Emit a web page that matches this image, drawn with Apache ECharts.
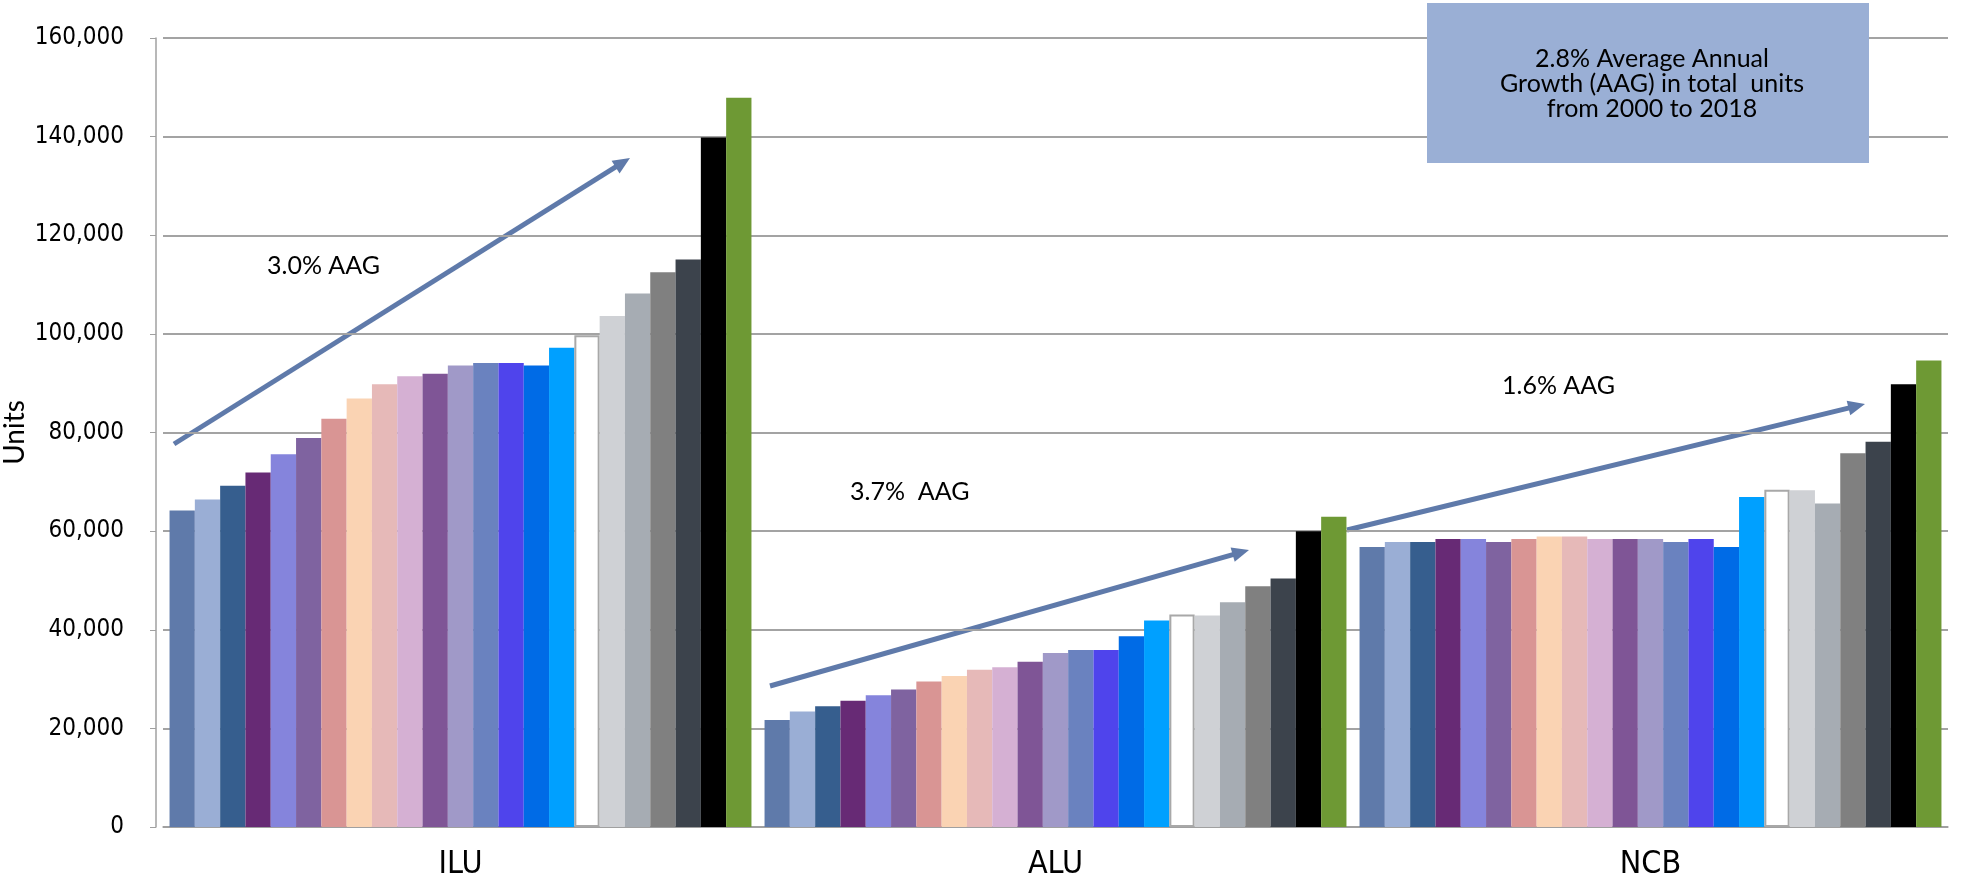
<!DOCTYPE html>
<html>
<head>
<meta charset="utf-8">
<title>Units by segment</title>
<script src="https://cdn.jsdelivr.net/npm/echarts@6/dist/echarts.min.js"></script>
<style>
  html, body { margin: 0; padding: 0; background: #fff; }
  #chart { width: 1963px; height: 886px; }
</style>
</head>
<body>
<div id="chart"></div>
<script>
// categories on the x axis
const categories = ['ILU', 'ALU', 'NCB'];

// one bar per year inside each category
const years = ['1996', '1997', '1998', '1999', '2000', '2001', '2002', '2003',
  '2004', '2005', '2006', '2007', '2008', '2009', '2010', '2011', '2012',
  '2013', '2014', '2015', '2016', '2017', '2018'];

const iluUnits = [64200, 66400, 69200, 71900, 75600, 78900, 82800, 86900, 89800,
  91400, 91900, 93600, 94100, 94100, 93600, 97200, 99700, 103600, 108200,
  112500, 115100, 139800, 147900];
const aluUnits = [21700, 23400, 24500, 25600, 26700, 27900, 29500, 30600, 31900,
  32400, 33500, 35300, 35900, 35900, 38700, 41900, 43100, 42900, 45600,
  48800, 50400, 60000, 62900];
const ncbUnits = [56800, 57800, 57800, 58400, 58400, 57800, 58400, 58900, 58900,
  58400, 58400, 58400, 57800, 58400, 56800, 66900, 68400, 68300, 65600,
  75800, 78100, 89800, 94600];

const barColors = ['#5f7aaa', '#9aaed5', '#365e8e', '#672a75', '#8584dc', '#7f63a0',
  '#d99594', '#fad3b3', '#e6b9b8', '#d5b0d3', '#7f5596', '#a099c8', '#6a82bf',
  '#4f44ec', '#006be6', '#00a0ff', '#ffffff', '#cfd1d5', '#a6acb3', '#808080',
  '#3c434c', '#000000', '#6e9934'];

const growthNotes = ['3.0% AAG', '3.7%  AAG', '1.6% AAG'];
const boxLines = ['2.8% Average Annual', 'Growth (AAG) in total  units', 'from 2000 to 2018'];

const axisFont = "'Liberation Sans Narrow', 'DejaVu Sans Condensed', sans-serif";
const noteFont = "25px 'Lato', 'Noto Sans', sans-serif";
const arrowColor = '#5f7aaa';

// arrow annotation: shaft plus a triangular head at (x2, y2)
function arrow(x1, y1, x2, y2) {
  const a = Math.atan2(y2 - y1, x2 - x1);
  const len = 17, half = 7.5;
  const bx = x2 - len * Math.cos(a), by = y2 - len * Math.sin(a);
  const px = -Math.sin(a) * half, py = Math.cos(a) * half;
  return {
    type: 'group',
    z: 100,
    children: [
      {
        type: 'line',
        shape: { x1: x1, y1: y1, x2: bx + 3 * Math.cos(a), y2: by + 3 * Math.sin(a) },
        style: { stroke: arrowColor, lineWidth: 5 },
      },
      {
        type: 'polygon',
        shape: { points: [[x2, y2], [bx + px, by + py], [bx - px, by - py]] },
        style: { fill: arrowColor },
      },
    ],
  };
}

const series = years.map((year, i) => ({
  name: year,
  type: 'bar',
  data: [iluUnits[i], aluUnits[i], ncbUnits[i]],
  barGap: '0%',
  barCategoryGap: '2.2%',
  itemStyle: i === 16
    ? { color: barColors[i], borderColor: '#a8a8a8', borderWidth: 2 }
    : { color: barColors[i] },
}));

const chart = echarts.init(document.getElementById('chart'));
chart.setOption({
  animation: false,
  backgroundColor: '#fff',
  grid: { left: 163, right: 15, top: 38, bottom: 59, outerBoundsMode: 'none', containLabel: false },
  xAxis: {
    type: 'category',
    data: categories,
    axisLine: { lineStyle: { color: '#a0a0a0', width: 1.5 } },
    axisTick: { show: false },
    axisLabel: { color: '#000', fontSize: 32, fontFamily: axisFont, margin: 22 },
  },
  yAxis: {
    type: 'value',
    min: 0,
    max: 160000,
    interval: 20000,
    offset: 7,
    name: 'Units',
    nameLocation: 'middle',
    nameGap: 127,
    nameMoveOverlap: false,
    nameTextStyle: { color: '#000', fontSize: 28, fontFamily: "'Lato', 'Noto Sans', sans-serif" },
    axisLine: { show: true, lineStyle: { color: '#a0a0a0', width: 1.5 } },
    axisTick: { show: true, length: 6, lineStyle: { color: '#a0a0a0' } },
    axisLabel: {
      color: '#000', fontSize: 24, fontFamily: axisFont, margin: 32,
      formatter: (v) => v.toLocaleString('en-US'),
    },
    splitLine: { show: true, lineStyle: { color: '#a3a3a3', width: 1.8 } },
  },
  series: series,
  graphic: [
    {
      type: 'rect',
      z: 90,
      shape: { x: 1427, y: 3, width: 442, height: 160 },
      style: { fill: '#9aafd5' },
    },
    {
      type: 'text',
      z: 91,
      x: 1652,
      y: 84,
      style: {
        text: boxLines.join('\n'),
        fill: '#000',
        font: noteFont,
        lineHeight: 25,
        align: 'center',
        verticalAlign: 'middle',
      },
    },
    arrow(174, 444, 630, 158),
    arrow(770, 686, 1249, 550),
    arrow(1347, 530, 1865, 404),
    {
      type: 'text', z: 95, x: 267, y: 266,
      style: { text: growthNotes[0], fill: '#000', font: noteFont, verticalAlign: 'middle' },
    },
    {
      type: 'text', z: 95, x: 850, y: 492,
      style: { text: growthNotes[1], fill: '#000', font: noteFont, verticalAlign: 'middle' },
    },
    {
      type: 'text', z: 95, x: 1502, y: 386,
      style: { text: growthNotes[2], fill: '#000', font: noteFont, verticalAlign: 'middle' },
    },
  ],
});
</script>
</body>
</html>
